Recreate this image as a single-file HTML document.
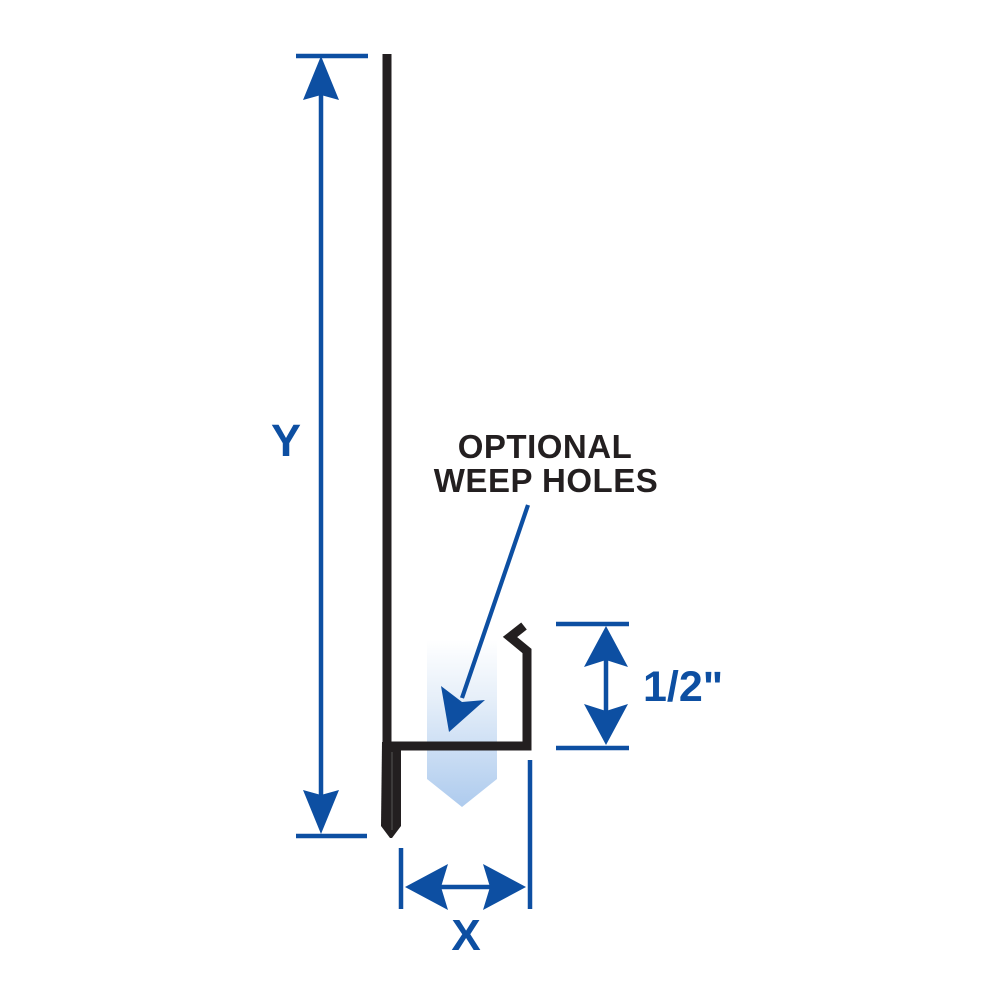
<!DOCTYPE html>
<html>
<head>
<meta charset="utf-8">
<style>
  html,body{margin:0;padding:0;background:#fff;}
  svg{display:block;}
  text{font-family:"Liberation Sans",Arial,sans-serif;font-weight:bold;}
</style>
</head>
<body>
<svg width="1000" height="1000" viewBox="0 0 1000 1000" xmlns="http://www.w3.org/2000/svg">
  <defs>
    <linearGradient id="g" x1="0" y1="0" x2="0" y2="1">
      <stop offset="0" stop-color="#ffffff"/>
      <stop offset="0.35" stop-color="#e6eff9"/>
      <stop offset="1" stop-color="#aecbee"/>
    </linearGradient>
  </defs>

  <!-- weep holes gradient arrow -->
  <polygon points="427,640 497,640 497,779 462,807 427,779" fill="url(#g)"/>

  <!-- Y dimension -->
  <line x1="296" y1="56" x2="368" y2="56" stroke="#0d4fa2" stroke-width="4.5"/>
  <line x1="296" y1="836" x2="367" y2="836" stroke="#0d4fa2" stroke-width="4.5"/>
  <line x1="321" y1="90" x2="321" y2="800" stroke="#0d4fa2" stroke-width="4.5"/>
  <polygon points="321,56 339,100 321,95 303,100" fill="#0d4fa2"/>
  <polygon points="321,834 339,790 321,795 303,790" fill="#0d4fa2"/>
  <text x="286" y="456" font-size="45" fill="#0d4fa2" text-anchor="middle">Y</text>

  <!-- 1/2" dimension -->
  <line x1="556" y1="624" x2="629" y2="624" stroke="#0d4fa2" stroke-width="4.5"/>
  <line x1="556" y1="748" x2="629" y2="748" stroke="#0d4fa2" stroke-width="4.5"/>
  <line x1="606" y1="655" x2="606" y2="715" stroke="#0d4fa2" stroke-width="4.5"/>
  <polygon points="606,626 628,667 606,660 584,667" fill="#0d4fa2"/>
  <polygon points="606,745 628,704 606,711 584,704" fill="#0d4fa2"/>
  <text x="643" y="701" font-size="43" fill="#0d4fa2">1/2"</text>

  <!-- X dimension -->
  <line x1="401" y1="848" x2="401" y2="909" stroke="#0d4fa2" stroke-width="4.5"/>
  <line x1="530" y1="760" x2="530" y2="909" stroke="#0d4fa2" stroke-width="4.5"/>
  <line x1="440" y1="887" x2="490" y2="887" stroke="#0d4fa2" stroke-width="4.5"/>
  <polygon points="405,887 448,864 441,887 448,910" fill="#0d4fa2"/>
  <polygon points="526,887 483,864 490,887 483,910" fill="#0d4fa2"/>
  <text x="466" y="950" font-size="44" fill="#0d4fa2" text-anchor="middle">X</text>

  <!-- leader arrow -->
  <line x1="528" y1="505" x2="462" y2="698" stroke="#0d4fa2" stroke-width="4.2"/>
  <polygon points="449,732 441,686 462,702 485,700" fill="#0d4fa2"/>

  <!-- label -->
  <text x="545" y="458" font-size="33" fill="#231f20" text-anchor="middle" letter-spacing="0.5">OPTIONAL</text>
  <text x="546" y="492" font-size="33" fill="#231f20" text-anchor="middle" letter-spacing="0.5">WEEP HOLES</text>

  <!-- black profile -->
  <path d="M387,54 L387,746 L527,746 L527,651 L510,637 L524,626" fill="none" stroke="#231f20" stroke-width="9" stroke-linejoin="miter" stroke-miterlimit="10"/>
  <polygon points="382,742 401,742 401,826 392,838 390,838 381,826" fill="#231f20"/>
  <line x1="392" y1="752" x2="392" y2="830" stroke="#555" stroke-width="1"/>
</svg>
</body>
</html>
